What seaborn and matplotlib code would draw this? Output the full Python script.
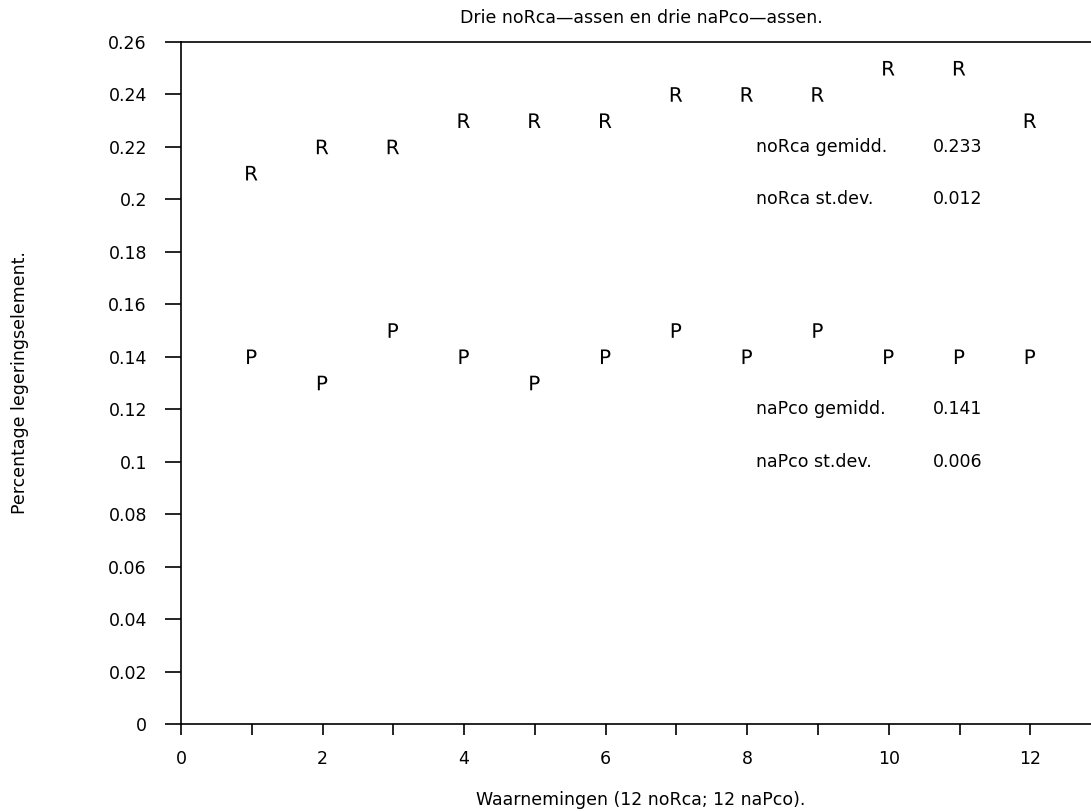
import matplotlib
matplotlib.use("Agg")
import matplotlib.pyplot as plt
import seaborn as sns
import pandas as pd

obs = [1, 2, 3, 4, 5, 6, 7, 8, 9, 10, 11, 12]
norca = [0.21, 0.22, 0.22, 0.23, 0.23, 0.23, 0.24, 0.24, 0.24, 0.25, 0.25, 0.23]
napco = [0.14, 0.13, 0.15, 0.14, 0.13, 0.14, 0.15, 0.14, 0.15, 0.14, 0.14, 0.14]
stats_labels = ["noRca gemidd.", "noRca st.dev.", "naPco gemidd.", "naPco st.dev."]
stats_values = ["0.233", "0.012", "0.141", "0.006"]
stats_y = [0.22, 0.2, 0.12, 0.1]

title = "Drie noRca\u2014assen en drie naPco\u2014assen."
xlabel = "Waarnemingen (12 noRca; 12 naPco)."
ylabel = "Percentage legeringselement."

sns.set_style("ticks")
plt.rcParams["font.family"] = ["DejaVu Sans"]
plt.rcParams["text.color"] = "black"
plt.rcParams["axes.labelcolor"] = "black"
FS = 12.5

df = pd.DataFrame({
    "x": obs + obs,
    "y": norca + napco,
    "s": ["R"] * len(obs) + ["P"] * len(obs),
})

fig = plt.figure(figsize=(10.91, 8.11), dpi=100)
ax = fig.add_axes([0.1659, 0.1073, 0.8434, 0.8409])

sns.scatterplot(data=df, x="x", y="y", style="s",
                markers={"R": "$\\mathsf{R}$", "P": "$\\mathsf{P}$"},
                color="black", s=110, linewidth=0, legend=False, ax=ax)

for lab, val, yy in zip(stats_labels, stats_values, stats_y):
    ax.text(8.12, yy, lab, fontsize=FS, va="center", ha="left", color="black")
    ax.text(10.62, yy, val, fontsize=FS, va="center", ha="left", color="black")

ax.set_xlim(0, 13)
ax.set_ylim(0, 0.26)
ax.set_xticks(range(0, 13, 2))
ax.set_xticks(range(0, 14), minor=True)
ax.set_xticklabels([str(v) for v in range(0, 13, 2)])
yt = [round(i * 0.02, 2) for i in range(14)]
ax.set_yticks(yt)
ax.set_yticklabels(["%g" % v for v in yt])

for sp in ["left", "top", "bottom"]:
    ax.spines[sp].set_linewidth(1.2)
    ax.spines[sp].set_color("black")
ax.spines["right"].set_visible(False)

ax.tick_params(axis="y", direction="out", length=11.5, width=1.2, pad=13,
               labelsize=FS, colors="black")
ax.tick_params(axis="x", which="both", direction="out", length=8, width=1.2,
               pad=11, labelsize=FS, colors="black")

ax.set_title(title, fontsize=FS, pad=14, color="black")
ax.set_xlabel(xlabel, fontsize=FS, labelpad=16)
ax.set_ylabel(ylabel, fontsize=FS, labelpad=57)

fig.savefig("out.png", dpi=100)
